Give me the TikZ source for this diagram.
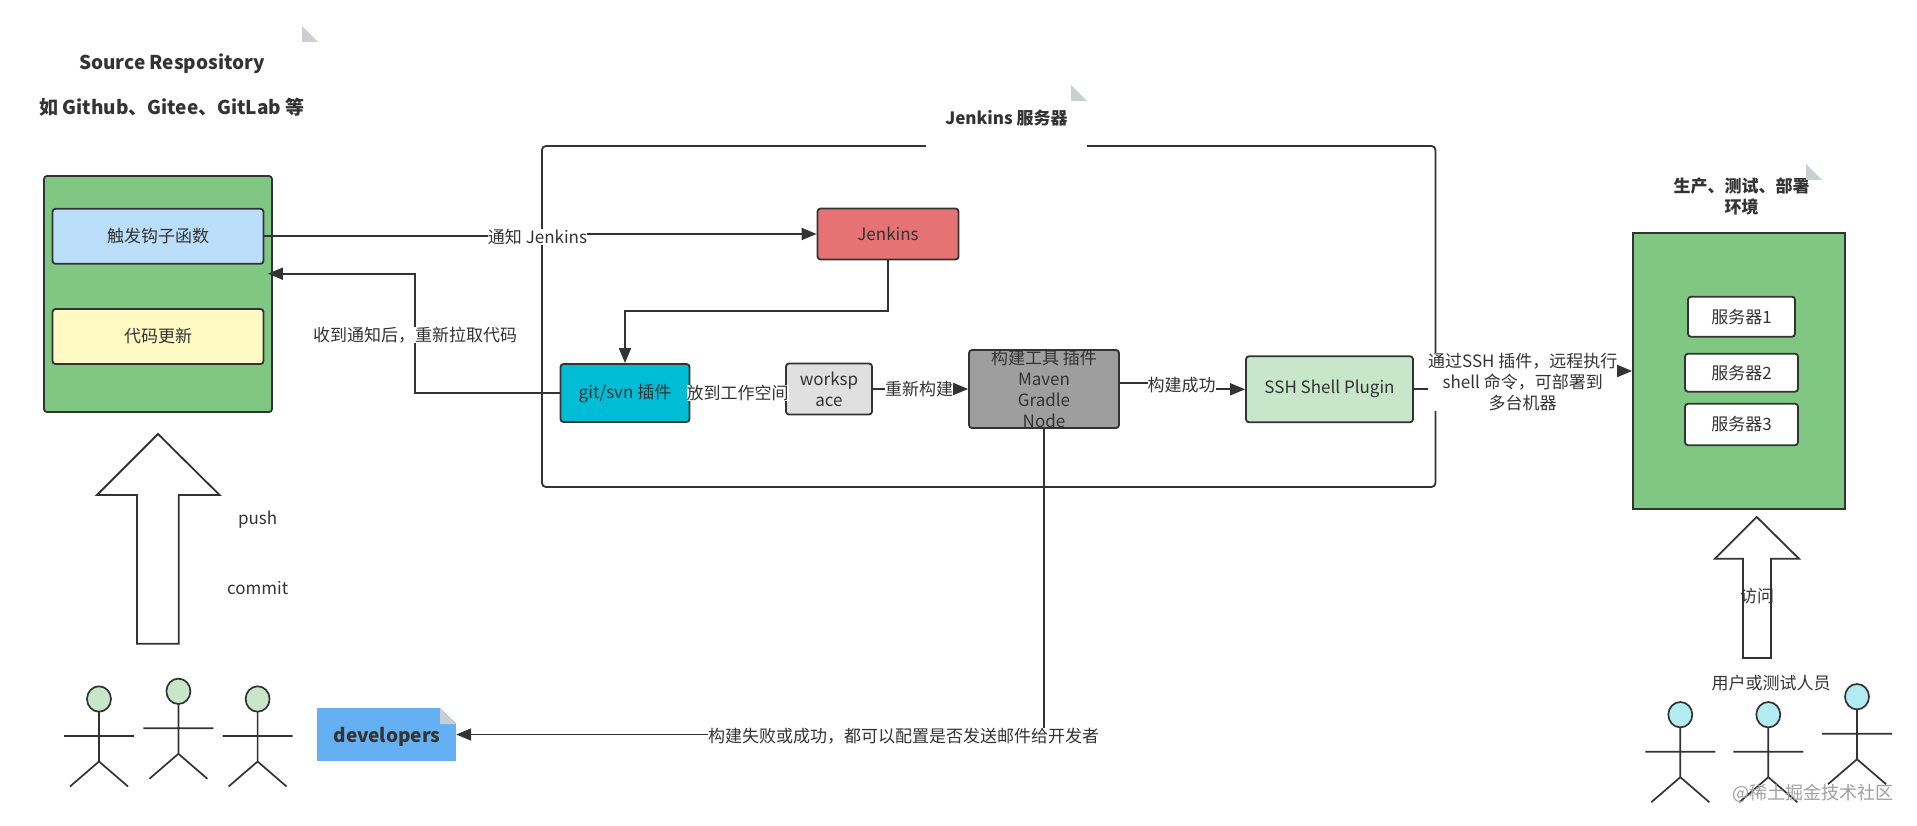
\documentclass[tikz,border=0pt]{standalone}
\usepackage{fontspec}
\setmainfont{Noto Sans CJK SC}
\usepackage{tikz}
\usetikzlibrary{positioning, arrows.meta, backgrounds}

\definecolor{ink}{HTML}{333333}
\definecolor{groupgreen}{HTML}{81C784}
\definecolor{hookblue}{HTML}{BBDEFB}
\definecolor{codeyellow}{HTML}{FFF9C4}
\definecolor{jenkinsred}{HTML}{E57373}
\definecolor{gitcyan}{HTML}{00BCD4}
\definecolor{workgrey}{HTML}{E0E0E0}
\definecolor{buildgrey}{HTML}{9E9E9E}
\definecolor{sshgreen}{HTML}{C8E6C9}
\definecolor{notefill}{HTML}{64B0F2}
\definecolor{userhead}{HTML}{B2EBF2}
\definecolor{foldgrey}{HTML}{CBCFD3}

\begin{document}
\begin{tikzpicture}[x=1pt, y=-1pt, font=\fontsize{17}{21}\selectfont, text=ink]
	\tikzstyle{block} = [rectangle, draw=ink, line width=1.8pt, rounded corners=3pt, inner sep=0pt, align=center]
	\tikzstyle{lbl} = [inner sep=0pt, align=center, fill=white]
	\tikzstyle{plain} = [inner sep=0pt, align=center]
	\tikzstyle{title} = [inner sep=0pt, align=center, font=\fontsize{17}{21}\selectfont\bfseries]
	\tikzstyle{flow} = [draw=ink, line width=1.8pt, -{Triangle[length=15pt, width=12pt]}]
	\tikzstyle{bigarrow} = [draw=ink, line width=1.8pt, line join=miter]
	\tikzset{
		pics/foldmark/.style={code={\fill[foldgrey] (0,0) -- (0,16) -- (16,16) -- cycle;}},
		pics/stickman/.style={code={
			\draw[ink, line width=1.7pt, fill=#1] (0,0) ellipse [x radius=12, y radius=12.7];
			\draw[ink, line width=1.7pt] (0,12.7) -- (0,62.5) (-35,37) -- (35,37) (-29,87.5) -- (0,62.5) -- (29,87.5);
		}}
	}
	\useasboundingbox (0,-1) rectangle (1917,825);

	\node [title, font=\fontsize{19}{23}\selectfont\bfseries] (srctitle) at (172,84.5) {Source Respository\\[22pt]如 Github、Gitee、GitLab 等};
	\pic at (302,25) {foldmark};

	\begin{scope}[on background layer]
		\node [block, fill=groupgreen, minimum width=228pt, minimum height=236pt] (source) at (158,293) {};
		\node [block, fill=hookblue, minimum width=211pt, minimum height=55pt] (hook) at (158,235.3) {触发钩子函数};
		\node [block, fill=codeyellow, minimum width=211pt, minimum height=55pt] (update) at (158,335.5) {代码更新};
	\end{scope}

	\node [block, fill=jenkinsred, minimum width=141pt, minimum height=51pt] (jenkins) at (888,233) {Jenkins};
	\node [block, fill=gitcyan, minimum width=129pt, minimum height=58pt] (git) at (625,392) {git/svn 插件};
	\node [block, fill=workgrey, minimum width=86pt, minimum height=51pt] (workspace) at (829,388) {worksp\\ace};
	\node [block, fill=buildgrey, minimum width=150pt, minimum height=78pt] (build) at (1044,388) {};
	\node [plain] (buildtext) at (build) {构建工具 插件\\Maven\\Gradle\\Node};
	\node [block, fill=sshgreen, minimum width=167pt, minimum height=66pt] (ssh) at (1329.5,388.3) {SSH Shell Plugin};

	\node [rectangle, draw=ink, line width=1.8pt, fill=groupgreen, minimum width=212pt, minimum height=276pt, inner sep=0pt] (env) at (1739,370) {};
	\node [block, fill=white, minimum width=107pt, minimum height=40pt] (server1) at (1741.5,315.7) {服务器1};
	\node [block, fill=white, minimum width=113pt, minimum height=38pt] (server2) at (1741.5,371.7) {服务器2};
	\node [block, fill=white, minimum width=113pt, minimum height=41.5pt] (server3) at (1741.5,423.5) {服务器3};

	\node [title, fill=white, minimum width=161pt, minimum height=64pt] (jtitle) at (1006.5,116.7) {Jenkins 服务器};
	\pic at (1071,84) {foldmark};
	\node [title] (envtitle) at (1741.7,195.5) {生产、测试、部署\\环境};
	\pic at (1806,163) {foldmark};

	\node [lbl] (notify) at (537.5,236) {通知 Jenkins};
	\node [lbl] (pull) at (415,334) {收到通知后，重新拉取代码};
	\node [lbl] (put) at (737.5,391.7) {放到工作空间};
	\node [lbl] (rebuild) at (919,388) {重新构建};
	\node [lbl] (success) at (1181.6,384) {构建成功};
	\node [lbl] (remote) at (1522.7,381) {通过SSH 插件，远程执行\\shell 命令，可部署到\\多台机器};
	\node [lbl] (mail) at (903.5,735) {构建失败或成功，都可以配置是否发送邮件给开发者};

	\node [rectangle, fill=notefill, minimum width=138.5pt, minimum height=53pt, inner sep=0pt] (devnote) at (386.7,733.5) {};
	\fill [white] (440,707) -- (457,707) -- (457,723) -- cycle;
	\pic at (440,707) {foldmark};
	\node [plain, font=\fontsize{19}{23}\selectfont\bfseries, text=ink] (devtext) at (387,735.5) {developers};

	\draw [bigarrow] (158,433) -- (219.6,494) -- (178.8,494) -- (178.8,642.7) -- (137,642.7) -- (137,494) -- (97,494) -- cycle;
	\node [plain] (push) at (257.6,519) {push};
	\node [plain] (commit) at (257.6,586.7) {commit};
	\pic at (99,698) {stickman=sshgreen};
	\pic at (178.4,690.3) {stickman=sshgreen};
	\pic at (257.6,698) {stickman=sshgreen};

	\draw [bigarrow] (1756.7,516) -- (1799,557.7) -- (1771,557.7) -- (1771,657) -- (1743,657) -- (1743,557.7) -- (1715,557.7) -- cycle;
	\node [plain] (visit) at (1757,595) {访问};
	\node [plain] (users) at (1771,682) {用户或测试人员};
	\pic at (1680.3,713.7) {stickman=userhead};
	\pic at (1768.3,713.7) {stickman=userhead};
	\pic at (1857,695.7) {stickman=userhead};

	\node [plain, text=gray!75, font=\fontsize{18}{22}\selectfont] (mark) at (1813,792.7) {@稀土掘金技术社区};

	\begin{scope}[on background layer]
		\node [rectangle, draw=ink, line width=1.8pt, rounded corners=4pt, minimum width=893.5pt, minimum height=341pt] (server) at (988.7,315.5) {};
		\draw [flow] (hook.east) -| (notify.center) |- (jenkins.west);
		\draw [flow] (jenkins.south) |- (625,310.3) -- (git.north);
		\draw [flow] (git.west) -| (pull.center) |- ([xshift=-5pt, yshift=20.3pt]source.east);
		\draw [line width=1.8pt, draw=ink] (git.east) -- (workspace.west |- git.east);
		\draw [flow] (workspace.east) -- (build.west);
		\draw [flow] ([yshift=6pt]build.east) -| (success.center) |- (ssh.west);
		\draw [flow] (ssh.east) -| (remote.center) |- (env.west);
		\draw [flow] (build.south) |- (devnote.east);
	\end{scope}
\end{tikzpicture}
\end{document}
